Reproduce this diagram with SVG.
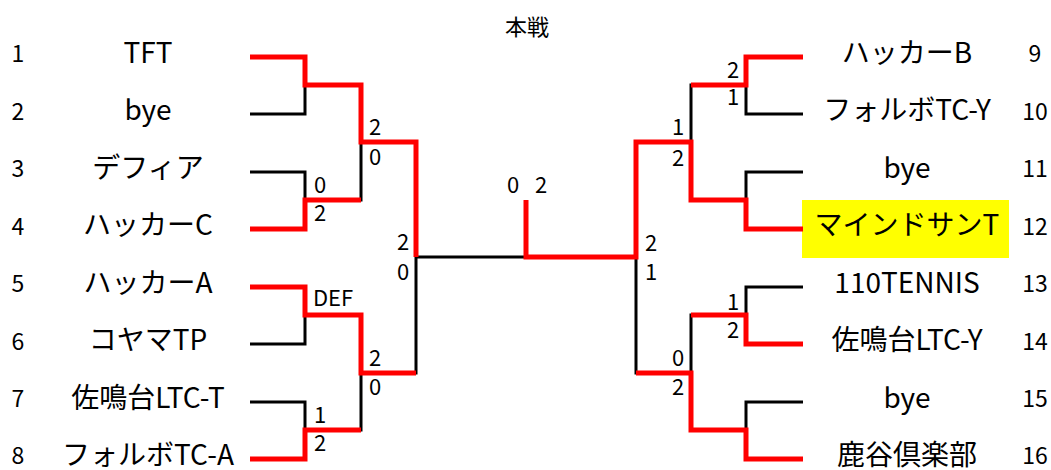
<svg xmlns="http://www.w3.org/2000/svg" width="1051" height="470" viewBox="0 0 1051 470">
<style>
text{font-family:"Noto Sans CJK JP","Noto Sans",sans-serif;fill:#000}
.name{font-size:28px;text-anchor:middle}
.num{font-size:23px;text-anchor:middle}
.sc{font-size:22px;text-anchor:middle}
.title{font-size:22px;text-anchor:middle}
.blk{fill:none;stroke:#000;stroke-width:3;stroke-linejoin:miter}
.red{fill:none;stroke:#ff0000;stroke-width:5;stroke-linejoin:miter}
</style>
<rect width="1051" height="470" fill="#fff"/>
<text class="title" x="527" y="35">本戦</text>
<rect x="802" y="200" width="207" height="58" fill="#ffff00"/>
<g id="connectors">
<g class="blk">
<path d="M250,57H305V114H250"/>
<path d="M250,172H305V229H250"/>
<path d="M250,287H305V344H250"/>
<path d="M250,402H305V459H250"/>
<path d="M305,85H361V200H305"/>
<path d="M305,315H361V430H305"/>
<path d="M361,142H416V373H361"/>
<path d="M416,257H526"/>
<path d="M803,57H746V114H803"/>
<path d="M803,172H746V229H803"/>
<path d="M803,287H746V344H803"/>
<path d="M803,402H746V459H803"/>
<path d="M746,85H691V200H746"/>
<path d="M746,315H691V430H746"/>
<path d="M691,142H636V373H691"/>
<path d="M636,257H526"/>
</g>
<g class="red">
<path d="M250,57H305V85H361V142H416V257"/>
<path d="M250,229H305V200H361"/>
<path d="M250,287H305V315H361V373H416"/>
<path d="M250,459H305V430H361"/>
<path d="M803,57H746V85H691"/>
<path d="M803,229H746V200H691V142H636V257H526V200"/>
<path d="M803,344H746V315H691"/>
<path d="M803,459H746V430H691V373H636"/>
</g>
</g>
<g id="scores">
<text class="sc" x="320" y="193">0</text>
<text class="sc" x="320" y="221">2</text>
<text class="sc" x="375" y="135">2</text>
<text class="sc" x="375" y="165">0</text>
<text class="sc" x="403" y="250">2</text>
<text class="sc" x="403" y="280">0</text>
<text class="sc" x="333" y="306">DEF</text>
<text class="sc" x="320" y="423">1</text>
<text class="sc" x="320" y="451">2</text>
<text class="sc" x="375" y="366">2</text>
<text class="sc" x="375" y="395">0</text>
<text class="sc" x="513" y="193">0</text>
<text class="sc" x="541" y="193">2</text>
<text class="sc" x="651" y="251">2</text>
<text class="sc" x="651" y="280">1</text>
<text class="sc" x="678" y="135">1</text>
<text class="sc" x="678" y="166">2</text>
<text class="sc" x="733" y="78">2</text>
<text class="sc" x="733" y="105">1</text>
<text class="sc" x="733" y="310">1</text>
<text class="sc" x="733" y="338">2</text>
<text class="sc" x="678" y="366">0</text>
<text class="sc" x="678" y="395">2</text>
</g>
<g id="team1"><text class="num" x="18" y="62">1</text><text class="name" x="148" y="63">TFT</text></g>
<g id="team2"><text class="num" x="18" y="120">2</text><text class="name" x="148" y="120">bye</text></g>
<g id="team3"><text class="num" x="18" y="177">3</text><text class="name" x="148" y="178">デフィア</text></g>
<g id="team4"><text class="num" x="18" y="235">4</text><text class="name" x="148" y="235">ハッカーC</text></g>
<g id="team5"><text class="num" x="18" y="292">5</text><text class="name" x="148" y="293">ハッカーA</text></g>
<g id="team6"><text class="num" x="18" y="350">6</text><text class="name" x="148" y="350">コヤマTP</text></g>
<g id="team7"><text class="num" x="18" y="407">7</text><text class="name" x="148" y="408">佐鳴台LTC-T</text></g>
<g id="team8"><text class="num" x="18" y="464">8</text><text class="name" x="148" y="465">フォルボTC-A</text></g>
<g id="team9"><text class="name" x="907" y="63">ハッカーB</text><text class="num" x="1035" y="62">9</text></g>
<g id="team10"><text class="name" x="907" y="120">フォルボTC-Y</text><text class="num" x="1035" y="120">10</text></g>
<g id="team11"><text class="name" x="907" y="178">bye</text><text class="num" x="1035" y="177">11</text></g>
<g id="team12"><text class="name" x="907" y="235">マインドサンT</text><text class="num" x="1035" y="235">12</text></g>
<g id="team13"><text class="name" x="907" y="293">110TENNIS</text><text class="num" x="1035" y="292">13</text></g>
<g id="team14"><text class="name" x="907" y="350">佐鳴台LTC-Y</text><text class="num" x="1035" y="350">14</text></g>
<g id="team15"><text class="name" x="907" y="408">bye</text><text class="num" x="1035" y="407">15</text></g>
<g id="team16"><text class="name" x="907" y="465">鹿谷倶楽部</text><text class="num" x="1035" y="464">16</text></g>
</svg>
